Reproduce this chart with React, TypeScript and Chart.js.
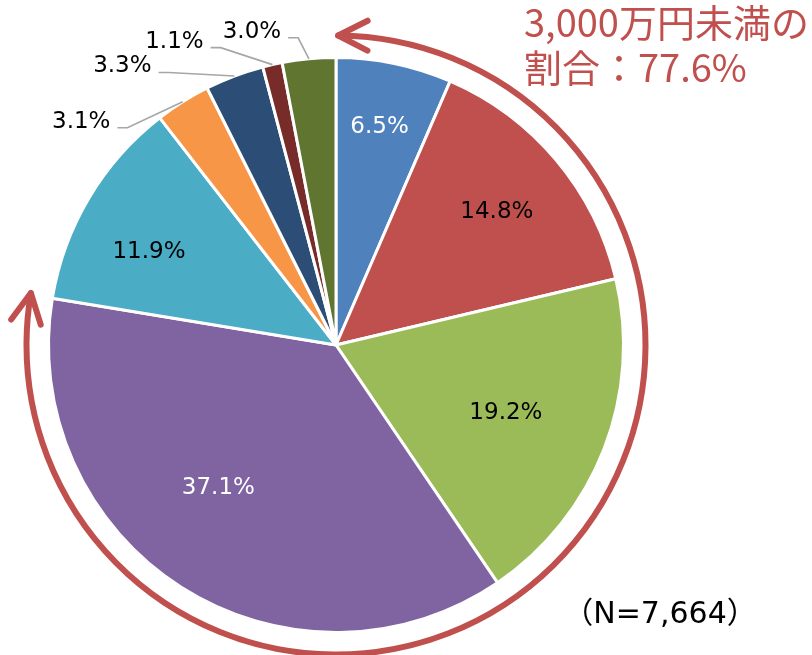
import { useEffect, useRef } from "react";
import { Chart, ArcElement, PieController } from "chart.js";

Chart.register(ArcElement, PieController);

// ---- data ----
const categories = [
  "500万円未満",
  "500～1,000万円未満",
  "1,000～2,000万円未満",
  "2,000～3,000万円未満",
  "3,000～4,000万円未満",
  "4,000～5,000万円未満",
  "5,000～6,000万円未満",
  "6,000～7,000万円未満",
  "7,000万円以上",
];
const shares = [6.5, 14.8, 19.2, 37.1, 11.9, 3.1, 3.3, 1.1, 3.0];
const highlightedCount = 4; // slices making up "3,000万円未満" (77.6%)
const calloutLines = ["3,000万円未満の", "割合：77.6%"];
const sampleNote = "（N=7,664）";

// ---- styles ----
const sliceColors = [
  "#4F81BD",
  "#C0504D",
  "#9BBB59",
  "#8064A2",
  "#4BACC6",
  "#F79646",
  "#2C4D75",
  "#772C2A",
  "#5F7530",
];
// inside labels: radius ratio + angle tweak (deg); outside labels: offset from slice edge
const labelStyle: any[] = [
  { inside: true, r: 0.78, dA: -0.5, color: "#FFFFFF" },
  { inside: true, r: 0.73, dA: 0, color: "#000000" },
  { inside: true, r: 0.634, dA: 0, color: "#000000" },
  { inside: true, r: 0.637, dA: 7.4, color: "#FFFFFF" },
  { inside: true, r: 0.73, dA: -3.8, color: "#000000" },
  { inside: false, dx: -101.5, dy: 26, color: "#000000" },
  { inside: false, dx: -112, dy: -3.6, color: "#000000" },
  { inside: false, dx: -98, dy: -17, color: "#000000" },
  { inside: false, dx: -57, dy: -21, color: "#000000" },
];
const RED = "#C0504D";
const LABEL_FONT = "23px 'DejaVu Sans', sans-serif";
const TITLE_FONT = "38px 'Noto Sans CJK JP', sans-serif";
const NOTE_FONT = "30px 'DejaVu Sans', 'Noto Sans CJK JP', sans-serif";

const overlayPlugin = {
  id: "overlay",
  afterDatasetsDraw(chart: any) {
    const ctx: CanvasRenderingContext2D = chart.ctx;
    const meta = chart.getDatasetMeta(0);
    let cx = 0;
    let cy = 0;
    let R = 0;
    ctx.save();
    ctx.font = LABEL_FONT;
    ctx.textAlign = "center";
    ctx.textBaseline = "alphabetic";
    meta.data.forEach((arc: any, i: number) => {
      const p = arc.getProps(["x", "y", "startAngle", "endAngle", "outerRadius"], true);
      cx = p.x;
      cy = p.y;
      R = p.outerRadius;
      const mid = (p.startAngle + p.endAngle) / 2;
      const st = labelStyle[i];
      const text = shares[i].toFixed(1) + "%";
      ctx.fillStyle = st.color;
      if (st.inside) {
        const a = mid + (st.dA * Math.PI) / 180;
        const lx = p.x + Math.cos(a) * R * st.r;
        const ly = p.y + Math.sin(a) * R * st.r;
        ctx.fillText(text, lx, ly + 23 * 0.36);
      } else {
        const ex = p.x + Math.cos(mid) * R;
        const ey = p.y + Math.sin(mid) * R;
        const lx = ex + st.dx;
        const ly = ey + st.dy;
        ctx.fillText(text, lx, ly);
        const w = ctx.measureText(text).width;
        const sx = lx + w / 2 + 7;
        ctx.beginPath();
        ctx.strokeStyle = "#A6A6A6";
        ctx.lineWidth = 1.6;
        ctx.moveTo(sx, ly);
        ctx.lineTo(sx + 10, ly);
        ctx.lineTo(ex, ey);
        ctx.stroke();
      }
    });

    // red arc with arrows
    const total = shares.reduce((s, v) => s + v, 0);
    const part = shares.slice(0, highlightedCount).reduce((s, v) => s + v, 0);
    const base = -Math.PI / 2;
    const a0 = base + (0.4 * Math.PI) / 180;
    const a1 = base + (part / total) * Math.PI * 2 + (0.3 * Math.PI) / 180;
    const AR = R + 22;
    ctx.strokeStyle = RED;
    ctx.lineWidth = 6;
    ctx.lineCap = "round";
    ctx.lineJoin = "round";
    ctx.beginPath();
    ctx.arc(cx, cy, AR, a0, a1);
    ctx.stroke();
    const head = (a: number, bx: number, by: number) => {
      const tx = cx + Math.cos(a) * AR;
      const ty = cy + Math.sin(a) * AR;
      const L = 33;
      const ang = (27 * Math.PI) / 180;
      const rot = (s: number) => [
        bx * Math.cos(s) - by * Math.sin(s),
        bx * Math.sin(s) + by * Math.cos(s),
      ];
      const [ux, uy] = rot(ang);
      const [vx, vy] = rot(-ang);
      ctx.beginPath();
      ctx.moveTo(tx + ux * L, ty + uy * L);
      ctx.lineTo(tx, ty);
      ctx.lineTo(tx + vx * L, ty + vy * L);
      ctx.stroke();
    };
    head(a0, -Math.sin(a0), Math.cos(a0));
    head(a1, Math.sin(a1), -Math.cos(a1));

    // callout text
    ctx.fillStyle = RED;
    ctx.font = TITLE_FONT;
    ctx.textAlign = "left";
    ctx.fillText(calloutLines[0], 524, 37);
    ctx.fillText(calloutLines[1], 524, 82);

    ctx.fillStyle = "#000000";
    ctx.font = NOTE_FONT;
    ctx.textAlign = "center";
    ctx.fillText(sampleNote, 660, 623);
    ctx.restore();
  },
};

export default function App() {
  const ref = useRef<HTMLCanvasElement | null>(null);
  useEffect(() => {
    if (!ref.current) return;
    const chart = new Chart(ref.current, {
      type: "pie",
      data: {
        labels: categories,
        datasets: [
          {
            data: shares,
            backgroundColor: sliceColors,
            borderColor: "#FFFFFF",
            borderWidth: 3,
          },
        ],
      },
      options: {
        responsive: false,
        animation: false,
        devicePixelRatio: 1,
        layout: { padding: { left: 47, top: 56, right: 187, bottom: 21 } },
        plugins: { legend: { display: false }, tooltip: { enabled: false } },
      },
      plugins: [overlayPlugin],
    } as any);
    return () => chart.destroy();
  }, []);
  return (
    <div style={{ position: "fixed", left: 0, top: 0, width: 812, height: 655, background: "#fff" }}>
      <canvas ref={ref} width={812} height={655} style={{ width: 812, height: 655 }} />
    </div>
  );
}
